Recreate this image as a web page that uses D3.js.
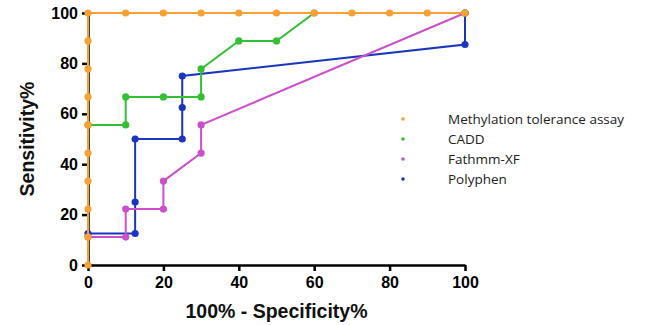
<!DOCTYPE html>
<html>
<head>
<meta charset="utf-8">
<script src="https://cdn.jsdelivr.net/npm/d3@7"></script>
<style>
  body { margin: 0; background: #fff; }
  svg { display: block; }
  .axis path, .axis line { stroke: #000; stroke-width: 2.5px; }
  .axis text { font-family: Arial, "Liberation Sans", sans-serif; font-weight: bold; font-size: 16px; fill: #000; }
  .title { font-family: Arial, "Liberation Sans", sans-serif; font-weight: bold; font-size: 19.5px; fill: #111; }
</style>
</head>
<body>
<svg id="chart" width="652" height="325"></svg>
<script>
// series names and colours
const seriesNames = ['Methylation tolerance assay', 'CADD', 'Fathmm-XF', 'Polyphen'];
const seriesColours = ['#F7A033', '#33C033', '#CC4FCC', '#1A35C0'];

// points: [100% - specificity, sensitivity]
const methylation = [
  [0, 0], [0, 11.1], [0, 22.2], [0, 33.3], [0, 44.4], [0, 55.6], [0, 66.7], [0, 77.8], [0, 88.9], [0, 100],
  [10, 100], [20, 100], [30, 100], [40, 100], [50, 100], [60, 100], [70, 100], [80, 100], [90, 100], [100, 100],
];
const cadd = [
  [0, 55.6], [10, 55.6], [10, 66.7], [20, 66.7], [30, 66.7], [30, 77.8], [40, 88.9], [50, 88.9], [60, 100], [100, 100],
];
const fathmm = [
  [0, 11.1], [10, 11.1], [10, 22.2], [20, 22.2], [20, 33.3], [30, 44.4], [30, 55.6], [100, 100],
];
const polyphen = [
  [0, 12.5], [12.5, 12.5], [12.5, 25], [12.5, 50], [25, 50], [25, 62.5], [25, 75], [100, 87.5], [100, 100],
];

const xTicks = [0, 20, 40, 60, 80, 100];
const yTicks = [0, 20, 40, 60, 80, 100];

const svg = d3.select('#chart');
const margins = { left: 88, top: 13, right: 187, bottom: 60 };
const width = 652 - margins.left - margins.right;
const height = 325 - margins.top - margins.bottom;

const x = d3.scaleLinear().domain([0, 100]).range([0, width]);
const y = d3.scaleLinear().domain([0, 100]).range([height, 0]);

const root = svg.append('g').attr('transform', `translate(${margins.left}, ${margins.top})`);

// Axes
root.append('g')
  .attr('class', 'axis')
  .attr('transform', `translate(0, ${height})`)
  .call(d3.axisBottom(x).tickValues(xTicks).tickSizeInner(6).tickSizeOuter(0).tickPadding(6));

root.append('g')
  .attr('class', 'axis')
  .call(d3.axisLeft(y).tickValues(yTicks).tickSizeInner(6).tickSizeOuter(0).tickPadding(4));

// Axis titles
svg.append('text')
  .attr('class', 'title')
  .attr('x', margins.left + width / 2)
  .attr('y', 318)
  .attr('text-anchor', 'middle')
  .text('100% - Specificity%');

svg.append('text')
  .attr('class', 'title')
  .attr('transform', `translate(34, ${margins.top + height / 2}) rotate(-90)`)
  .attr('text-anchor', 'middle')
  .text('Sensitivity%');

// Data
const allSeries = [methylation, cadd, fathmm, polyphen];
const line = d3.line().x(d => x(d[0])).y(d => y(d[1]));

// draw in reverse so the orange series sits on top
const order = [3, 2, 1, 0];
order.forEach(i => {
  const g = root.append('g');
  g.append('path')
    .attr('d', line(allSeries[i]))
    .style('fill', 'none')
    .style('stroke', seriesColours[i])
    .style('stroke-width', '2px');
  g.selectAll('circle')
    .data(allSeries[i])
    .enter()
    .append('circle')
    .attr('cx', d => x(d[0]))
    .attr('cy', d => y(d[1]))
    .attr('r', 3.6)
    .style('fill', seriesColours[i]);
});

// Legend
const legend = svg.append('g').attr('transform', 'translate(403, 119)');
const items = legend.selectAll('g.legend-item')
  .data(seriesNames)
  .enter()
  .append('g')
  .attr('class', 'legend-item')
  .attr('transform', (d, i) => `translate(0, ${i * 20})`);

items.append('circle')
  .attr('r', 1.8)
  .style('fill', (d, i) => seriesColours[i]);

items.append('text')
  .attr('x', 45)
  .attr('dy', '0.35em')
  .style('font-family', '"Open Sans", "Noto Sans", sans-serif')
  .style('font-size', '13.5px')
  .style('fill', '#222')
  .text(d => d);
</script>
</body>
</html>
